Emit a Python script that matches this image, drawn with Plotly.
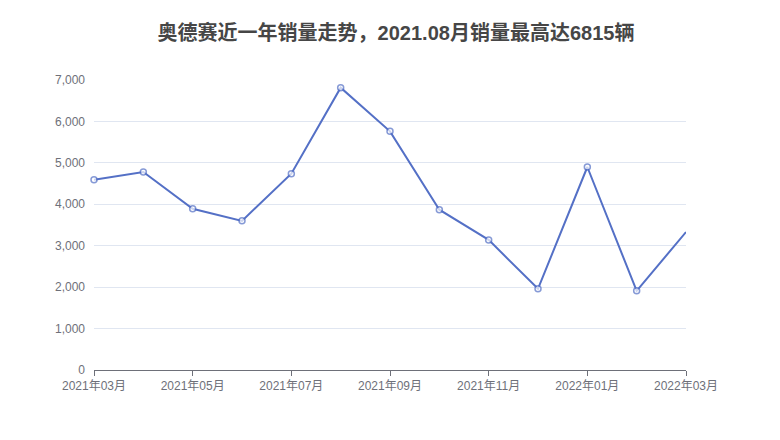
import plotly.graph_objects as go

months = ["2021-03", "2021-04", "2021-05", "2021-06", "2021-07", "2021-08",
          "2021-09", "2021-10", "2021-11", "2021-12", "2022-01", "2022-02", "2022-03"]
sales = [4590, 4780, 3890, 3600, 4740, 6815, 5760, 3870, 3140, 1960, 4900, 1910, 3330]
tick_months = ["2021-03", "2021-05", "2021-07", "2021-09", "2021-11", "2022-01", "2022-03"]
tick_labels = ["2021年03月", "2021年05月", "2021年07月", "2021年09月", "2021年11月", "2022年01月", "2022年03月"]
y_ticks = [0, 1000, 2000, 3000, 4000, 5000, 6000, 7000]

marker_sizes = [6] * (len(months) - 1) + [0]

fig = go.Figure()
fig.add_trace(go.Scatter(
    x=months, y=sales, mode="lines+markers",
    line=dict(color="#5470c6", width=2),
    marker=dict(size=marker_sizes, color="white", line=dict(color="#5470c6", width=1.5)),
    cliponaxis=False,
    hoverinfo="x+y",
))

font_fam = "Liberation Sans, Noto Sans CJK SC, sans-serif"
fig.update_layout(
    width=780, height=440,
    margin=dict(l=86, r=102, t=72, b=78),
    paper_bgcolor="white", plot_bgcolor="white",
    showlegend=False,
    title=dict(text="<b>奥德赛近一年销量走势，2021.08月销量最高达6815辆</b>",
               x=388 / 780, xanchor="center", y=1 - 25 / 440, yanchor="middle",
               font=dict(size=20, color="#464646", family=font_fam)),
    font=dict(family=font_fam, color="#6e7079", size=12),
)
fig.update_xaxes(
    type="category", categoryorder="array", categoryarray=months,
    range=[0, len(months) - 1],
    tickmode="array", tickvals=tick_months, ticktext=tick_labels,
    showgrid=False, showline=True, linecolor="#6e7079", linewidth=1,
    ticks="outside", ticklen=5, tickcolor="#6e7079",
    tickfont=dict(size=12, color="#6e7079"), zeroline=False,
)
fig.update_yaxes(
    range=[0, 7000], tickmode="array", tickvals=y_ticks,
    tickformat=",d", showgrid=True, gridcolor="#e0e6f1", gridwidth=1,
    showline=False, zeroline=False, ticks="", ticklabelstandoff=8,
    tickfont=dict(size=12, color="#6e7079"),
)
fig.write_html("out.html")
